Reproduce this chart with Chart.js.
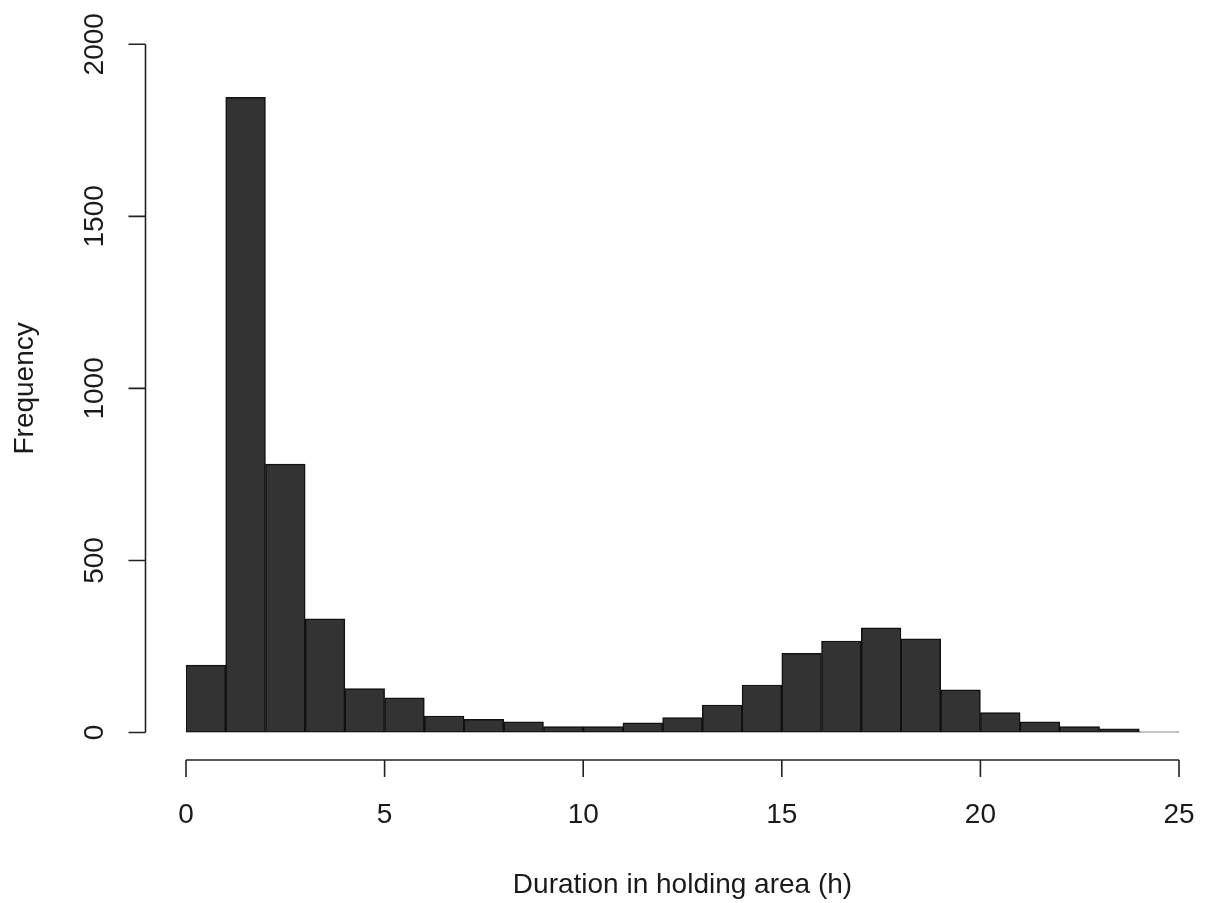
<!DOCTYPE html>
<html>
<head>
<meta charset="utf-8">
<script src="https://cdn.jsdelivr.net/npm/chart.js@4"></script>
<style>
html,body{margin:0;padding:0;background:#fff;}
#wrap{width:1209px;height:903px;position:relative;}
</style>
</head>
<body>
<div id="wrap"><canvas id="c" width="1209" height="903"></canvas></div>
<script>
// Histogram bins (left edges, width 1 h) and counts
const binStarts = [0,1,2,3,4,5,6,7,8,9,10,11,12,13,14,15,16,17,18,19,20,21,22,23,24];
const counts = [196,1846,780,330,128,101,48,38,31,17,17,28,43,80,138,230,266,304,272,124,58,31,17,11,2];
const xTicks = [0,5,10,15,20,25];
const yTicks = [0,500,1000,1500,2000];
const xTitle = 'Duration in holding area (h)';
const yTitle = 'Frequency';

const FONT = '28px "Liberation Sans", Arial, sans-serif';
const INK = '#1a1a1a';

const rAxes = {
  id: 'rAxes',
  afterDraw(chart) {
    const ctx = chart.ctx;
    const xs = chart.scales.x, ys = chart.scales.y;
    const y0 = ys.getPixelForValue(0);
    const xAxisY = y0 + 27.5;
    const yAxisX = xs.getPixelForValue(0) - 40.5;
    ctx.save();
    ctx.strokeStyle = '#222';
    ctx.lineWidth = 1.6;
    // x axis
    const xl = xs.getPixelForValue(xTicks[0]), xr = xs.getPixelForValue(xTicks[xTicks.length-1]);
    ctx.beginPath();
    ctx.moveTo(xl, xAxisY); ctx.lineTo(xr, xAxisY);
    xTicks.forEach(t => { const p = xs.getPixelForValue(t); ctx.moveTo(p, xAxisY); ctx.lineTo(p, xAxisY + 17); });
    ctx.stroke();
    // y axis
    const yb = ys.getPixelForValue(yTicks[0]), yt = ys.getPixelForValue(yTicks[yTicks.length-1]);
    ctx.beginPath();
    ctx.moveTo(yAxisX, yb); ctx.lineTo(yAxisX, yt);
    yTicks.forEach(t => { const p = ys.getPixelForValue(t); ctx.moveTo(yAxisX, p); ctx.lineTo(yAxisX - 17, p); });
    ctx.stroke();
    // labels
    ctx.fillStyle = INK;
    ctx.font = FONT;
    ctx.textAlign = 'center';
    ctx.textBaseline = 'alphabetic';
    xTicks.forEach(t => ctx.fillText(String(t), xs.getPixelForValue(t), 823));
    ctx.fillText(xTitle, (xl + xr) / 2, 893);
    yTicks.forEach(t => {
      ctx.save();
      ctx.translate(103, ys.getPixelForValue(t));
      ctx.rotate(-Math.PI / 2);
      ctx.fillText(String(t), 0, 0);
      ctx.restore();
    });
    ctx.save();
    ctx.translate(33, (ys.getPixelForValue(0) + ys.getPixelForValue(2000)) / 2);
    ctx.rotate(-Math.PI / 2);
    ctx.fillText(yTitle, 0, 0);
    ctx.restore();
    ctx.restore();
  }
};

new Chart(document.getElementById('c'), {
  type: 'bar',
  data: {
    datasets: [{
      data: binStarts.map((s, i) => ({ x: s + 0.5, y: counts[i] })),
      backgroundColor: '#333333',
      borderColor: '#111111',
      borderWidth: 1.5,
      borderSkipped: false,
      barPercentage: 1,
      categoryPercentage: 1
    }]
  },
  options: {
    responsive: false,
    animation: false,
    devicePixelRatio: 1,
    layout: { padding: { left: 186, right: 30, top: 44.3, bottom: 170.5 } },
    plugins: { legend: { display: false }, tooltip: { enabled: false } },
    scales: {
      x: { type: 'linear', min: 0, max: 25, offset: false, display: false },
      y: { type: 'linear', min: 0, max: 2000, display: false }
    }
  },
  plugins: [rAxes]
});
</script>
</body>
</html>
